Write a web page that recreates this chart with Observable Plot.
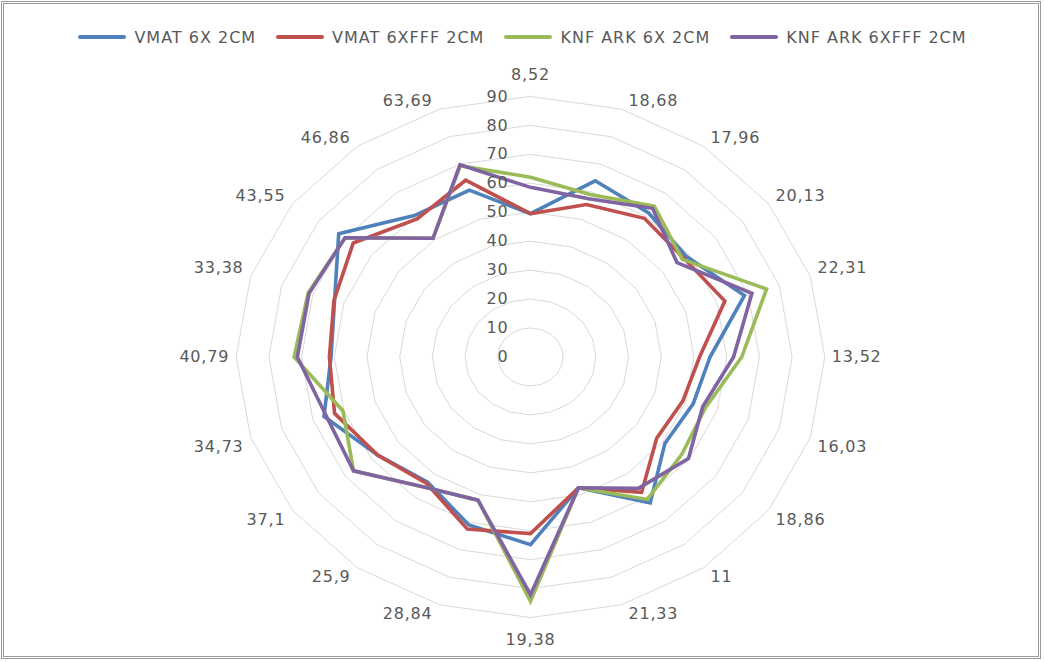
<!DOCTYPE html>
<html>
<head>
<meta charset="utf-8">
<script src="https://cdn.jsdelivr.net/npm/d3@7"></script>
<script src="https://cdn.jsdelivr.net/npm/@observablehq/plot@0.6"></script>
<style>
  html, body { margin: 0; padding: 0; background: #fff; }
  body { width: 1045px; height: 662px; position: relative; overflow: hidden; font-family: "DejaVu Sans", sans-serif; }
  #frame { position: absolute; left: 1px; top: 1px; width: 1040px; height: 658px; box-sizing: border-box; border: 3px double #9a9a9a; }
  #legend { position: absolute; left: 0; top: 26px; width: 1045px; height: 22px; display: flex; justify-content: center; align-items: center; gap: 20px; color: #595959; font-size: 16px; letter-spacing: 1px; }
  #legend .item { display: flex; align-items: center; gap: 8px; white-space: nowrap; }
  #legend .swatch { width: 48px; height: 4px; border-radius: 2px; }
  #chart { position: absolute; left: 0; top: 50px; }
</style>
</head>
<body>
<div id="frame"></div>
<div id="legend"></div>
<div id="chart"></div>
<script>
// Radar axes (one per category), clockwise from the top
const categories = ["8,52", "18,68", "17,96", "20,13", "22,31", "13,52", "16,03", "18,86", "11", "21,33",
                    "19,38", "28,84", "25,9", "37,1", "34,73", "40,79", "33,38", "43,55", "46,86", "63,69"];

// Series values, same order as categories
const vmat6x2cm     = [49.5, 64.0, 61.5, 59.0, 68.8, 54.9, 52.3, 50.8, 62.3, 47.5, 64.8, 61.0, 53.5, 57.7, 66.4, 61.0, 63.0, 72.5, 60.4, 60.6];
const vmat6xfff2cm  = [49.5, 55.4, 59.2, 58.0, 62.5, 51.7, 49.0, 47.7, 57.8, 47.5, 61.0, 62.5, 54.0, 57.7, 63.0, 61.5, 63.2, 67.0, 59.0, 64.2];
const knfArk6x2cm   = [62.1, 59.0, 64.4, 57.4, 75.9, 64.6, 56.3, 57.2, 60.8, 47.5, 84.4, 52.0, 55.5, 66.9, 60.3, 72.3, 71.5, 70.1, 50.7, 69.5];
const knfArk6xfff2cm= [58.6, 57.5, 63.5, 55.4, 71.2, 62.1, 55.4, 59.7, 56.1, 47.5, 82.1, 52.0, 55.5, 66.9, 65.7, 71.3, 71.2, 70.1, 50.7, 69.8];

const seriesNames  = ["VMAT 6X 2CM", "VMAT 6XFFF 2CM", "KNF ARK 6X 2CM", "KNF ARK 6XFFF 2CM"];
const seriesValues = [vmat6x2cm, vmat6xfff2cm, knfArk6x2cm, knfArk6xfff2cm];
const seriesColors = ["#4f81bd", "#c0504d", "#9bbb59", "#8064a2"];

// Radial scale ticks and grid rings
const tickValues = [0, 10, 20, 30, 40, 50, 60, 70, 80, 90];
const ringValues = [10, 20, 30, 40, 50, 60, 70, 80, 90];
const radialMax = 90;

const n = categories.length;
const angle = i => (i * 2 * Math.PI) / n;
const polar = (v, i) => ({x: v * Math.sin(angle(i)), y: v * Math.cos(angle(i))});

// Grid rings as closed polygons
const rings = ringValues.flatMap(r => categories.map((c, i) => ({ring: r, ...polar(r, i)})));

// Series outlines
const points = seriesNames.flatMap((name, s) =>
  seriesValues[s].map((v, i) => ({series: name, value: v, ...polar(v, i)})));

// Category labels hang off the outer ring's corners, on the side facing away from the centre
const eps = 1e-6;
const labels = categories.map((c, i) => ({
  text: c,
  sx: Math.sign(Math.round(Math.sin(angle(i)) * 1e6)),
  sy: Math.sign(Math.round(Math.cos(angle(i)) * 1e6)),
  ...polar(radialMax, i)
}));

function labelMark(sx, sy) {
  const data = labels.filter(d => d.sx === sx && d.sy === sy);
  return Plot.text(data, {
    x: "x", y: "y", text: "text",
    textAnchor: sx > 0 ? "start" : sx < 0 ? "end" : "middle",
    lineAnchor: sy > 0 ? "bottom" : sy < 0 ? "top" : "middle",
    dx: sx * 7,
    dy: sx === 0 ? -sy * 16 : -sy * 3,
    fill: "#595959", fontSize: 16
  });
}
const labelMarks = [];
for (const sx of [-1, 0, 1]) for (const sy of [-1, 0, 1]) labelMarks.push(labelMark(sx, sy));

// Legend
const legend = document.getElementById("legend");
seriesNames.forEach((name, s) => {
  const item = document.createElement("div");
  item.className = "item";
  const sw = document.createElement("div");
  sw.className = "swatch";
  sw.style.background = seriesColors[s];
  const tx = document.createElement("span");
  tx.textContent = name;
  item.append(sw, tx);
  legend.append(item);
});

const cx = 530, cy = 306.5;   // centre of the radar inside the svg
const kx = 3.27, ky = 2.895;  // pixels per unit, horizontally and vertically

const chart = Plot.plot({
  width: 1045,
  height: 610,
  margin: 0,
  x: {domain: [-150, 150], range: [cx - 150 * kx, cx + 150 * kx], axis: null},
  y: {domain: [-100, 100], range: [cy + 100 * ky, cy - 100 * ky], axis: null},
  color: {domain: seriesNames, range: seriesColors},
  style: {fontFamily: "DejaVu Sans, sans-serif", background: "transparent"},
  marks: [
    Plot.line(rings, {x: "x", y: "y", z: "ring", curve: "linear-closed", stroke: "#d9d9d9", strokeWidth: 1}),
    Plot.line(points, {x: "x", y: "y", z: "series", stroke: "series", curve: "linear-closed",
                       strokeWidth: 3.6, strokeLinejoin: "miter", strokeMiterlimit: 10}),
    Plot.text(tickValues, {x: 0, y: d => d, text: d => String(d), textAnchor: "end", dx: -22,
                           fill: "#595959", fontSize: 16, lineAnchor: "middle"}),
    ...labelMarks
  ]
});
chart.querySelectorAll("text").forEach(t => t.style.letterSpacing = "0.8px");
document.getElementById("chart").append(chart);
</script>
</body>
</html>
